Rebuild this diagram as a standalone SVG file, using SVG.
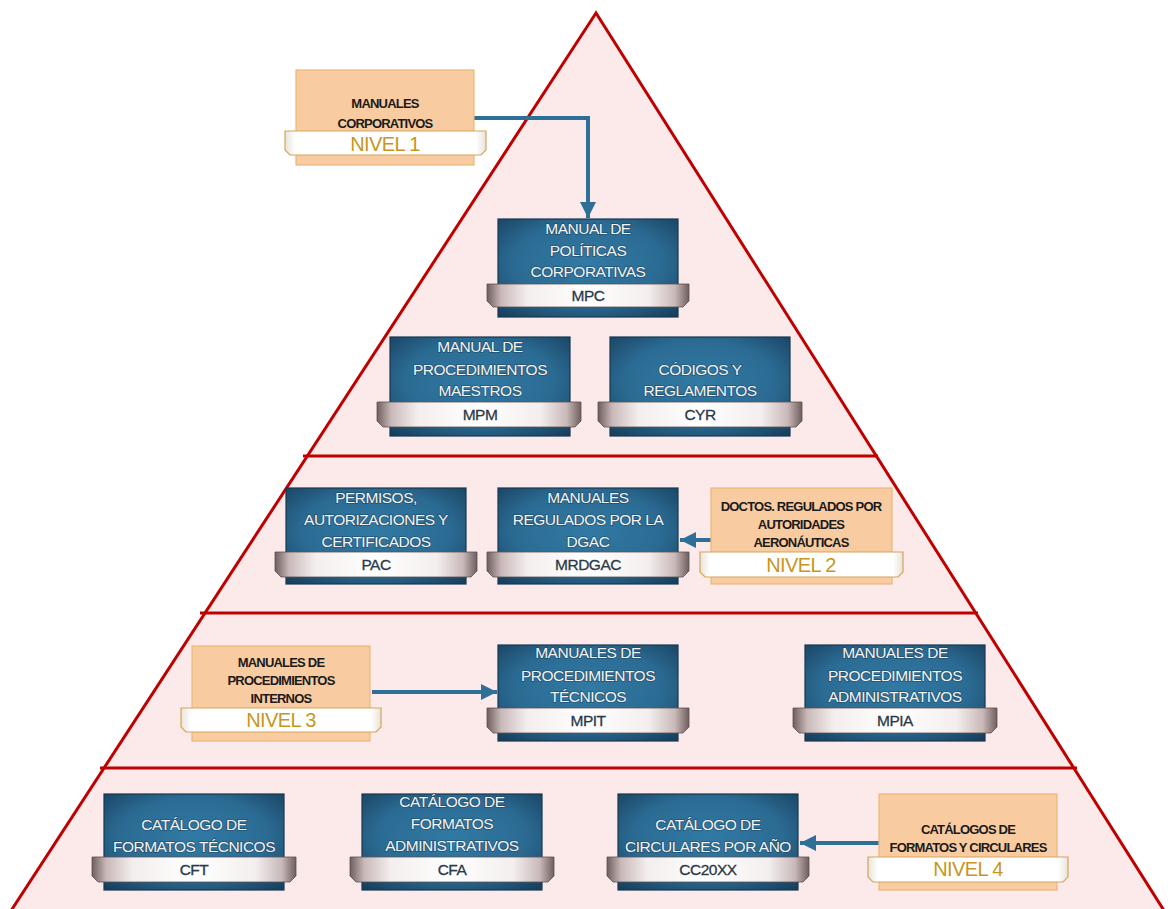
<svg xmlns="http://www.w3.org/2000/svg" width="1173" height="909" viewBox="0 0 1173 909">
<style>
.tri{fill:#FCEAEA;stroke:#C00000;stroke-width:3;stroke-linejoin:miter}
.band{stroke:#C00000;stroke-width:3}
.blue{fill:url(#gBlue);stroke:#173850;stroke-width:1.2}
.bar{fill:url(#gBar);stroke:#5E5050;stroke-width:0.8}
.wbar{fill:url(#gWBar);stroke:#D3A65A;stroke-width:1.2}
.org{fill:#F8CBA1;stroke:#E9B877;stroke-width:1.2}
.t{font-family:"Liberation Sans",Arial,sans-serif;font-size:15.5px;fill:#F4F4F4;text-anchor:middle;letter-spacing:-0.5px;stroke:#1B3A52;stroke-width:1.6px;stroke-opacity:0.55;paint-order:stroke}
.c{font-family:"Liberation Sans",Arial,sans-serif;font-size:15.5px;fill:#2A3A48;text-anchor:middle;letter-spacing:-0.5px;stroke:#2A3A48;stroke-width:0.3px}
.o{font-family:"Liberation Sans",Arial,sans-serif;font-size:13px;font-weight:bold;fill:#1A1A1A;text-anchor:middle;letter-spacing:-0.8px}
.n{font-family:"Liberation Sans",Arial,sans-serif;font-size:20px;fill:#C8961E;text-anchor:middle;letter-spacing:-0.6px}
.arr{fill:none;stroke:#2E6F98;stroke-width:4;marker-end:url(#ah)}
</style>
<defs>
<radialGradient id="gBlue" cx="0.5" cy="0.45" r="0.75">
<stop offset="0" stop-color="#317AA4"/>
<stop offset="0.55" stop-color="#2B6B93"/>
<stop offset="1" stop-color="#163B58"/>
</radialGradient>
<linearGradient id="gBar" x1="0" y1="0" x2="1" y2="0">
<stop offset="0" stop-color="#6E5E5E"/>
<stop offset="0.07" stop-color="#C9B9B9"/>
<stop offset="0.2" stop-color="#F4EEEE"/>
<stop offset="0.5" stop-color="#FFFFFF"/>
<stop offset="0.8" stop-color="#F4EEEE"/>
<stop offset="0.93" stop-color="#C9B9B9"/>
<stop offset="1" stop-color="#6E5E5E"/>
</linearGradient>
<linearGradient id="gWBar" x1="0" y1="0" x2="1" y2="0">
<stop offset="0" stop-color="#E8E2DA"/>
<stop offset="0.05" stop-color="#FFFFFF"/>
<stop offset="0.95" stop-color="#FFFFFF"/>
<stop offset="1" stop-color="#E8E2DA"/>
</linearGradient>
<marker id="ah" viewBox="0 0 10 10" refX="10" refY="5" markerUnits="userSpaceOnUse" markerWidth="16" markerHeight="16" orient="auto">
<path d="M0,0 L10,5 L0,10 z" fill="#2E6F98"/>
</marker>
</defs>
<rect width="1173" height="909" fill="#FFFFFF"/>
<g id="pyramid">
<polygon class="tri" points="596,13 5,920 1170,920"/>
<line class="band" x1="303" y1="456" x2="878" y2="456"/>
<line class="band" x1="200" y1="613" x2="978" y2="613"/>
<line class="band" x1="100" y1="768" x2="1077" y2="768"/>
</g>
<g id="connectors">
<path class="arr" d="M474,118 H588 V218"/>
<path class="arr" d="M711,540 H680"/>
<path class="arr" d="M372,692 H497"/>
<path class="arr" d="M879,843 H800"/>
</g>
<g id="nivel1">
<rect class="org" x="296" y="70" width="178" height="95"/>
<path class="wbar" d="M285,131 H486 V150 L481,155 H290 L285,150 Z"/>
<text class="o" x="385" y="108">MANUALES</text>
<text class="o" x="385" y="128">CORPORATIVOS</text>
<text class="n" x="385" y="151">NIVEL 1</text>
</g>
<g id="mpc">
<rect class="blue" x="498" y="219" width="180" height="98"/>
<path class="bar" d="M487,284 H689 V301 L683,307 H493 L487,301 Z"/>
<text class="t" x="588" y="234">MANUAL DE</text>
<text class="t" x="588" y="256">POLÍTICAS</text>
<text class="t" x="588" y="277">CORPORATIVAS</text>
<text class="c" x="588" y="301">MPC</text>
</g>
<g id="mpm">
<rect class="blue" x="390" y="337" width="180" height="99"/>
<path class="bar" d="M377,402 H581 V421 L575,427 H383 L377,421 Z"/>
<text class="t" x="480" y="352">MANUAL DE</text>
<text class="t" x="480" y="375">PROCEDIMIENTOS</text>
<text class="t" x="480" y="396">MAESTROS</text>
<text class="c" x="480" y="420">MPM</text>
</g>
<g id="cyr">
<rect class="blue" x="610" y="337" width="180" height="99"/>
<path class="bar" d="M598,402 H802 V421 L796,427 H604 L598,421 Z"/>
<text class="t" x="700" y="375">CÓDIGOS Y</text>
<text class="t" x="700" y="396">REGLAMENTOS</text>
<text class="c" x="700" y="420">CYR</text>
</g>
<g id="pac">
<rect class="blue" x="286" y="488" width="180" height="96"/>
<path class="bar" d="M275,552 H477 V571 L471,577 H281 L275,571 Z"/>
<text class="t" x="376" y="503">PERMISOS,</text>
<text class="t" x="376" y="525">AUTORIZACIONES Y</text>
<text class="t" x="376" y="547">CERTIFICADOS</text>
<text class="c" x="376" y="570">PAC</text>
</g>
<g id="mrdgac">
<rect class="blue" x="498" y="488" width="180" height="96"/>
<path class="bar" d="M487,552 H689 V571 L683,577 H493 L487,571 Z"/>
<text class="t" x="588" y="503">MANUALES</text>
<text class="t" x="588" y="525">REGULADOS POR LA</text>
<text class="t" x="588" y="547">DGAC</text>
<text class="c" x="588" y="570">MRDGAC</text>
</g>
<g id="nivel2">
<rect class="org" x="711" y="488" width="181" height="96"/>
<path class="wbar" d="M700,552 H903 V572 L898,577 H705 L700,572 Z"/>
<text class="o" x="801" y="511">DOCTOS. REGULADOS POR</text>
<text class="o" x="801" y="529">AUTORIDADES</text>
<text class="o" x="801" y="547">AERONÁUTICAS</text>
<text class="n" x="801" y="572">NIVEL 2</text>
</g>
<g id="nivel3">
<rect class="org" x="192" y="646" width="178" height="95"/>
<path class="wbar" d="M181,708 H381 V727 L376,732 H186 L181,727 Z"/>
<text class="o" x="281" y="667">MANUALES DE</text>
<text class="o" x="281" y="685">PROCEDIMIENTOS</text>
<text class="o" x="281" y="703">INTERNOS</text>
<text class="n" x="281" y="727">NIVEL 3</text>
</g>
<g id="mpit">
<rect class="blue" x="498" y="645" width="180" height="96"/>
<path class="bar" d="M487,708 H689 V727 L683,733 H493 L487,727 Z"/>
<text class="t" x="588" y="658">MANUALES DE</text>
<text class="t" x="588" y="681">PROCEDIMIENTOS</text>
<text class="t" x="588" y="702">TÉCNICOS</text>
<text class="c" x="588" y="726">MPIT</text>
</g>
<g id="mpia">
<rect class="blue" x="805" y="645" width="180" height="96"/>
<path class="bar" d="M793,708 H997 V727 L991,733 H799 L793,727 Z"/>
<text class="t" x="895" y="658">MANUALES DE</text>
<text class="t" x="895" y="681">PROCEDIMIENTOS</text>
<text class="t" x="895" y="702">ADMINISTRATIVOS</text>
<text class="c" x="895" y="726">MPIA</text>
</g>
<g id="cft">
<rect class="blue" x="104" y="794" width="180" height="96"/>
<path class="bar" d="M92,857 H296 V876 L290,882 H98 L92,876 Z"/>
<text class="t" x="194" y="830">CATÁLOGO DE</text>
<text class="t" x="194" y="852">FORMATOS TÉCNICOS</text>
<text class="c" x="194" y="875">CFT</text>
</g>
<g id="cfa">
<rect class="blue" x="362" y="794" width="180" height="96"/>
<path class="bar" d="M350,857 H554 V876 L548,882 H356 L350,876 Z"/>
<text class="t" x="452" y="807">CATÁLOGO DE</text>
<text class="t" x="452" y="829">FORMATOS</text>
<text class="t" x="452" y="851">ADMINISTRATIVOS</text>
<text class="c" x="452" y="875">CFA</text>
</g>
<g id="cc20xx">
<rect class="blue" x="618" y="794" width="180" height="96"/>
<path class="bar" d="M607,857 H809 V876 L803,882 H613 L607,876 Z"/>
<text class="t" x="708" y="830">CATÁLOGO DE</text>
<text class="t" x="708" y="852">CIRCULARES POR AÑO</text>
<text class="c" x="708" y="875">CC20XX</text>
</g>
<g id="nivel4">
<rect class="org" x="879" y="794" width="178" height="96"/>
<path class="wbar" d="M868,857 H1068 V877 L1063,882 H873 L868,877 Z"/>
<text class="o" x="968" y="834">CATÁLOGOS DE</text>
<text class="o" x="968" y="852">FORMATOS Y CIRCULARES</text>
<text class="n" x="968" y="876">NIVEL 4</text>
</g>
</svg>
